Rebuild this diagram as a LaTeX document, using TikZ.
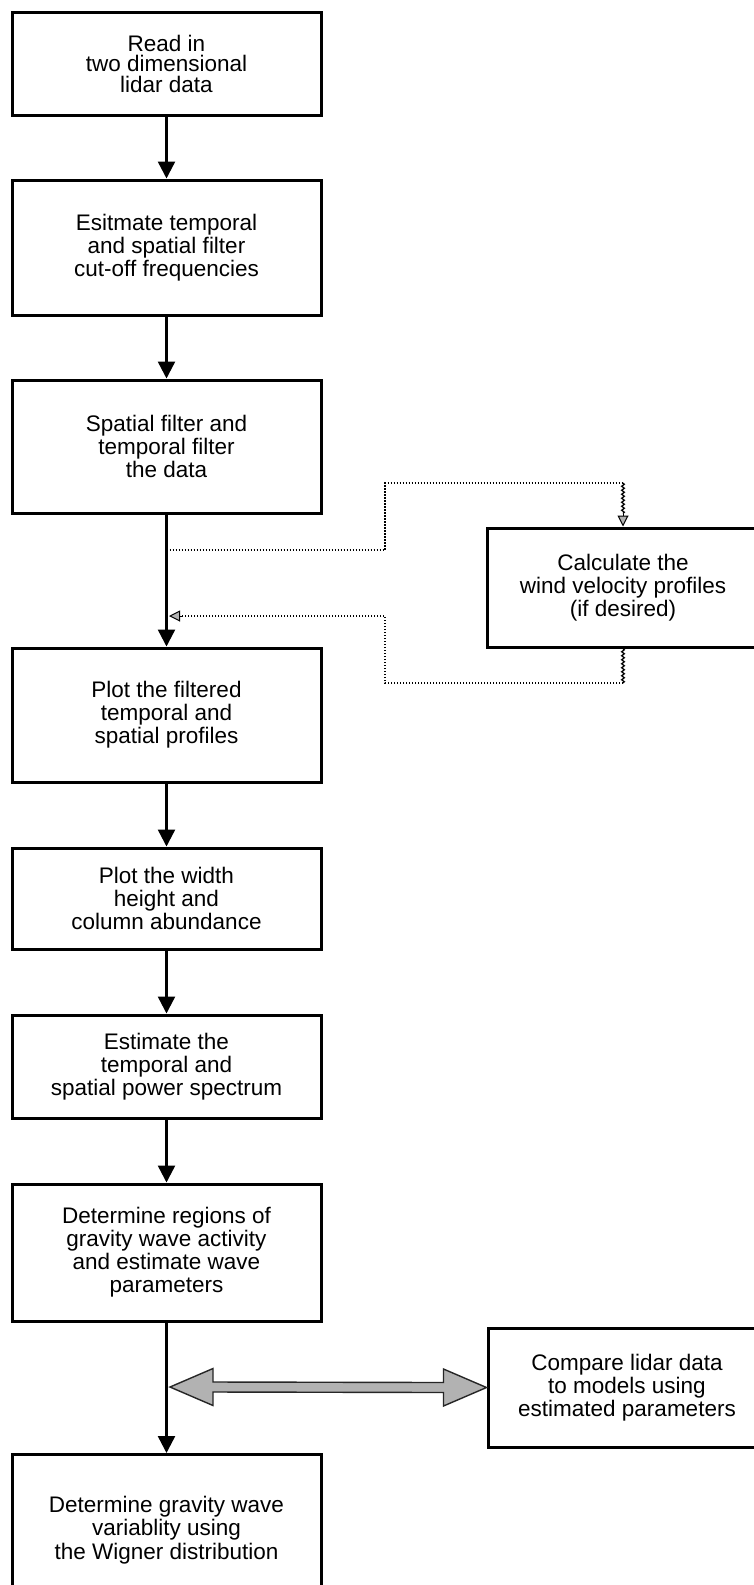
\documentclass[tikz,border=0pt]{standalone}
\usepackage{fontspec}
\setmainfont{Liberation Sans}
\usetikzlibrary{arrows.meta,calc,decorations.pathmorphing}
\begin{document}
\begin{tikzpicture}[x=1pt,y=-1pt,
  box/.style={draw=black, line width=3pt, minimum width=309pt, align=center,
              font=\fontsize{22.5}{23}\selectfont, inner sep=0pt},
  boxtext/.style={align=center, font=\fontsize{22.5}{23.5}\selectfont, inner sep=0pt},
  flow/.style={line width=2.4pt, -{Triangle[length=17pt,width=17pt]}},
  dotline/.style={line width=2pt, dash pattern=on 1.5pt off 1.5pt},
  wavy/.style={line width=1.3pt, decorate, decoration={snake, amplitude=1.3pt, segment length=4pt}},
  dtip/.style={line width=1pt, -{Triangle[length=11pt,width=11pt,fill=gray!60,line width=1pt]}},
  darrow/.style={draw=black!85, line width=1.4pt, fill=gray!60},
]
\clip (0,0) rectangle (754,1585);
\fill[white] (0,0) rectangle (754,1585);

% main column
\node[box, minimum height=103pt, font=\fontsize{22.5}{20.5}\selectfont] (b1) at (166.5,63.5) {Read in\\two dimensional\\lidar data};
\node[box, minimum height=135pt] (b2) at (166.5,247.5) {Esitmate temporal\\and spatial filter\\cut-off frequencies};
\node[box, minimum height=133pt] (b3) at (166.5,446.5) {Spatial filter and\\temporal filter\\the data};
\node[box, minimum height=134pt] (b4) at (166.5,715) {Plot the filtered\\temporal and\\spatial profiles};
\node[box, minimum height=101pt] (b5) at (166.5,898.5) {Plot the width\\height and\\column abundance};
\node[box, minimum height=103pt] (b6) at (166.5,1066.5) {Estimate the\\temporal and\\spatial power spectrum};
\node[box, minimum height=137pt] (b7) at (166.5,1252.5) {Determine regions of\\gravity wave activity\\and estimate wave\\parameters};
\node[box, minimum height=200pt, anchor=north] (b9) at (166.5,1453) {};
\node[boxtext] (b9t) at (166.5,1530) {Determine gravity wave\\variablity using\\the Wigner distribution};

% side boxes
\node[box, minimum width=272pt, minimum height=119pt] (calc) at (623,587.5) {Calculate the\\wind velocity profiles\\(if desired)};
\node[box, minimum width=278pt, minimum height=119pt] (cmp) at (627,1387.5) {Compare lidar data\\to models using\\estimated parameters};

% main flow
\draw[flow] (b1.south) -- (b2.north);
\draw[flow] (b2.south) -- (b3.north);
\draw[flow] (b3.south) -- (b4.north);
\draw[flow] (b4.south) -- (b5.north);
\draw[flow] (b5.south) -- (b6.north);
\draw[flow] (b6.south) -- (b7.north);
\draw[flow] (b7.south) -- (b9.north);

% optional wind-velocity loop
\coordinate (d1) at (166.5,550);
\coordinate (d2) at (169,616);
\coordinate (c1) at (385,483);
\coordinate (c2) at (623,483);
\coordinate (c3) at (623,683);
\coordinate (c4) at (385,683);
\coordinate (c5) at (385,616);
\coordinate (t1) at ($(calc.north)+(0,-13)$);
\coordinate (t2) at ($(d2)+(13,0)$);
\draw[dotline] (d1) -| (c1) -- (c2);
\draw[wavy] (c2) -- (t1);
\draw[dtip] (t1) -- (calc.north);
\draw[wavy] (calc.south) -- (c3);
\draw[dotline] (c3) -- (c4) -- (c5) -- (t2);
\draw[dtip] (t2) -- (d2);

% double arrow to comparison box
\coordinate (L) at (170,1387);
\draw[darrow] (L) -- ++(43,-18.5) -- ++(0,13.5) -- ($(cmp.west)+(-43,-5)$) -- ++(0,-13.5)
  -- (cmp.west) -- ++(-43,18.5) -- ++(0,-13.5) -- ($(L)+(43,5)$) -- ++(0,13.5) -- cycle;
\end{tikzpicture}
\end{document}
